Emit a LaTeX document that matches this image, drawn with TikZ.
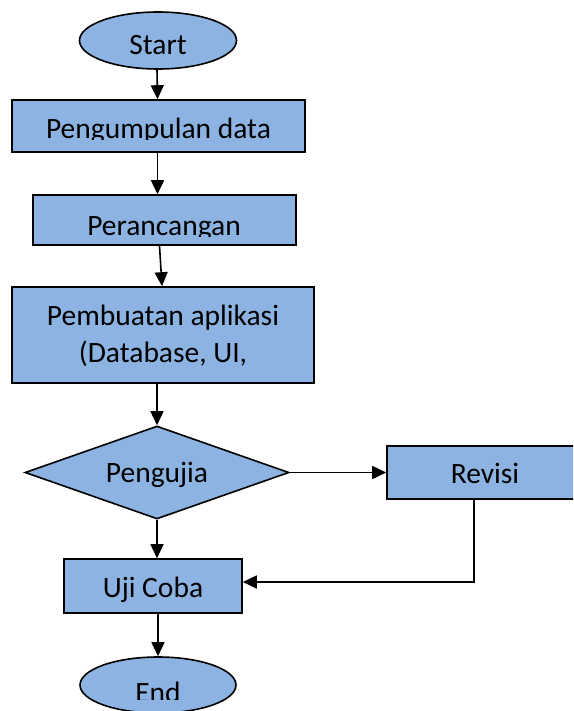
\documentclass[tikz,border=0pt]{standalone}
\usepackage{fontspec}
\setmainfont{Carlito}
\usetikzlibrary{shapes.geometric,arrows.meta}
\definecolor{boxblue}{RGB}{141,179,226}
\begin{document}
\begin{tikzpicture}[x=1pt,y=-1pt,
  shapebox/.style={draw=black, fill=boxblue, line width=1.6pt, inner sep=0pt},
  lbl/.style={font=\fontsize{29.5}{35}\selectfont, inner sep=0pt, anchor=base},
  conn/.style={line width=1.6pt, -{Triangle[length=14pt,width=13pt]}}]
\useasboundingbox (0,0) rectangle (573,711);
\clip (0,0) rectangle (573,711);

% Start
\node[shapebox, ellipse, minimum width=157pt, minimum height=57pt] (start) at (158,40.5) {};
\node[lbl] (tstart) at (158,55) {Start};

% Pengumpulan data
\node[shapebox, minimum width=293pt, minimum height=52pt] (b1) at (158.5,126) {};
\begin{scope}
  \clip (12,100) rectangle (305,140);
  \node[lbl] (t1) at (158.5,139) {Pengumpulan data};
\end{scope}

% Perancangan
\node[shapebox, minimum width=263pt, minimum height=50pt] (b2) at (164.5,220) {};
\begin{scope}
  \clip (33,195) rectangle (296,236);
  \node[lbl] (t2) at (164,235) {Perancangan};
\end{scope}

% Pembuatan aplikasi
\node[shapebox, minimum width=302pt, minimum height=96pt] (b3) at (163,335) {};
\node[lbl] (t3a) at (163,325) {Pembuatan aplikasi};
\node[lbl] (t3b) at (163,362) {(Database, UI,};

% Pengujia (decision)
\node[shapebox, diamond, minimum width=264pt, minimum height=93pt] (dia) at (157,472.5) {};
\node[lbl] (tdia) at (157,482) {Pengujia};

% Revisi
\node[shapebox, minimum width=213pt, minimum height=53pt] (rev) at (493.5,472.5) {};
\node[lbl] (trev) at (485,483) {Revisi};

% Uji Coba
\node[shapebox, minimum width=178pt, minimum height=54pt] (uji) at (153,586) {};
\node[lbl] (tuji) at (153,597) {Uji Coba};

% End
\node[shapebox, ellipse, minimum width=156pt, minimum height=56pt] (end) at (158,685) {};
\begin{scope}
  \clip (80,657) rectangle (236,699);
  \node[lbl] (tend) at (158,702) {End};
\end{scope}

% connectors
\draw[conn] ([xshift=-1pt]start.south) -- ([xshift=-1pt]b1.north);
\draw[conn] ([xshift=-1pt]b1.south) -- ([xshift=-1pt]b1.south |- b2.north);
\draw[conn] ([xshift=-5pt]b2.south) -- ([xshift=-1pt]b3.north);
\draw[conn] ([xshift=-6pt]b3.south) -- (dia.north);
\draw[conn] (dia.east) -- (rev.west);
\draw[conn] (dia.south) -- (dia.south |- uji.north);
\draw[conn] ([xshift=-19.5pt]rev.south) |- ([yshift=4pt]uji.east);
\draw[conn] (end.north |- uji.south) -- (end.north);
\end{tikzpicture}
\end{document}
